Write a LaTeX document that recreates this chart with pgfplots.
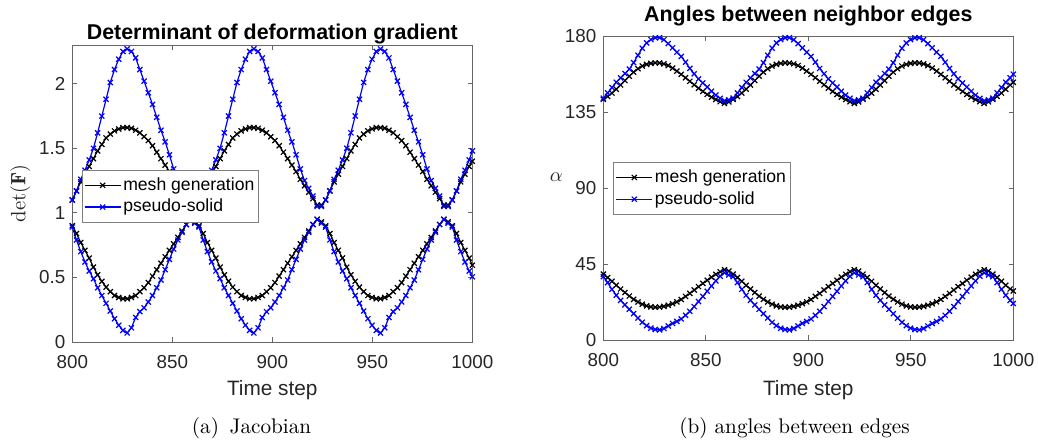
\documentclass[border=0pt]{standalone}
\usepackage{pgfplots}
\pgfplotsset{compat=1.18}
\usepackage{pgfplotstable}
\usepackage{fontspec}
\newfontfamily\arial{Liberation Sans}

% left panel: t, black upper/lower, blue upper/lower
\pgfplotstableread{
t bu bl pu pl
800.00 1.10 0.90 1.10 0.89
802.11 1.17 0.84 1.17 0.79
804.22 1.24 0.77 1.26 0.70
806.33 1.30 0.71 1.33 0.62
808.44 1.36 0.65 1.41 0.55
810.56 1.42 0.58 1.50 0.49
812.67 1.48 0.52 1.62 0.42
814.78 1.53 0.47 1.75 0.36
816.89 1.58 0.425 1.88 0.30
819.00 1.61 0.39 2.01 0.24
821.11 1.635 0.36 2.11 0.18
823.22 1.65 0.345 2.19 0.13
825.33 1.66 0.335 2.25 0.09
827.44 1.66 0.335 2.27 0.07
829.56 1.655 0.345 2.25 0.11
831.67 1.64 0.36 2.20 0.19
833.78 1.62 0.39 2.11 0.235
835.89 1.59 0.42 2.02 0.265
838.00 1.56 0.46 1.93 0.31
840.11 1.52 0.51 1.84 0.36
842.22 1.47 0.56 1.74 0.42
844.33 1.42 0.61 1.64 0.48
846.44 1.37 0.66 1.55 0.56
848.56 1.32 0.71 1.45 0.64
850.67 1.26 0.76 1.34 0.72
852.78 1.21 0.81 1.25 0.79
854.89 1.16 0.86 1.19 0.85
857.00 1.11 0.91 1.13 0.91
859.11 1.06 0.95 1.05 0.95
861.22 1.06 0.93 1.05 0.92
863.33 1.10 0.90 1.10 0.89
865.44 1.17 0.84 1.17 0.79
867.56 1.24 0.77 1.26 0.70
869.67 1.30 0.71 1.33 0.62
871.78 1.36 0.65 1.41 0.55
873.89 1.42 0.58 1.50 0.49
876.00 1.48 0.52 1.62 0.42
878.11 1.53 0.47 1.75 0.36
880.22 1.58 0.425 1.88 0.30
882.33 1.61 0.39 2.01 0.24
884.44 1.635 0.36 2.11 0.18
886.56 1.65 0.345 2.19 0.13
888.67 1.66 0.335 2.25 0.09
890.78 1.66 0.335 2.27 0.07
892.89 1.655 0.345 2.25 0.11
895.00 1.64 0.36 2.20 0.19
897.11 1.62 0.39 2.11 0.235
899.22 1.59 0.42 2.02 0.265
901.33 1.56 0.46 1.93 0.31
903.44 1.52 0.51 1.84 0.36
905.56 1.47 0.56 1.74 0.42
907.67 1.42 0.61 1.64 0.48
909.78 1.37 0.66 1.55 0.56
911.89 1.32 0.71 1.45 0.64
914.00 1.26 0.76 1.34 0.72
916.11 1.21 0.81 1.25 0.79
918.22 1.16 0.86 1.19 0.85
920.33 1.11 0.91 1.13 0.91
922.44 1.06 0.95 1.05 0.95
924.56 1.06 0.93 1.05 0.92
926.67 1.10 0.90 1.10 0.89
928.78 1.17 0.84 1.17 0.79
930.89 1.24 0.77 1.26 0.70
933.00 1.30 0.71 1.33 0.62
935.11 1.36 0.65 1.41 0.55
937.22 1.42 0.58 1.50 0.49
939.33 1.48 0.52 1.62 0.42
941.44 1.53 0.47 1.75 0.36
943.56 1.58 0.425 1.88 0.30
945.67 1.61 0.39 2.01 0.24
947.78 1.635 0.36 2.11 0.18
949.89 1.65 0.345 2.19 0.13
952.00 1.66 0.335 2.25 0.09
954.11 1.66 0.335 2.27 0.07
956.22 1.655 0.345 2.25 0.11
958.33 1.64 0.36 2.20 0.19
960.44 1.62 0.39 2.11 0.235
962.56 1.59 0.42 2.02 0.265
964.67 1.56 0.46 1.93 0.31
966.78 1.52 0.51 1.84 0.36
968.89 1.47 0.56 1.74 0.42
971.00 1.42 0.61 1.64 0.48
973.11 1.37 0.66 1.55 0.56
975.22 1.32 0.71 1.45 0.64
977.33 1.26 0.76 1.34 0.72
979.44 1.21 0.81 1.25 0.79
981.56 1.16 0.86 1.19 0.85
983.67 1.11 0.91 1.13 0.91
985.78 1.06 0.95 1.05 0.95
987.89 1.06 0.93 1.05 0.92
990.00 1.10 0.90 1.10 0.89
992.11 1.17 0.84 1.17 0.79
994.22 1.24 0.77 1.26 0.70
996.33 1.30 0.71 1.33 0.62
998.44 1.36 0.65 1.41 0.55
1000.00 1.40 0.595 1.48 0.505
}\jac

% right panel: t, black upper/lower, blue upper/lower
\pgfplotstableread{
t bu bl pu pl
800.00 142.5 39.0 143.2 37.5
802.11 144.2 37.0 146.3 34.0
804.22 146.2 34.8 149.5 30.0
806.33 148.5 32.4 152.6 26.5
808.44 151.0 30.2 155.2 23.5
810.56 153.6 28.1 157.8 20.8
812.67 156.2 26.0 160.4 18.2
814.78 158.6 24.1 164.2 15.6
816.89 160.6 22.5 168.6 13.0
819.00 162.2 21.2 172.8 10.5
821.11 163.2 20.2 175.9 8.5
823.22 163.8 19.6 177.9 7.0
825.33 164.1 19.4 178.9 6.2
827.44 164.0 19.5 179.0 6.0
829.56 163.5 19.9 177.8 6.8
831.67 162.5 20.6 175.5 8.3
833.78 161.0 21.5 173.0 9.8
835.89 159.2 22.6 170.4 11.0
838.00 157.3 24.0 167.9 12.5
840.11 155.3 25.8 164.5 14.6
842.22 153.2 27.6 160.8 17.0
844.33 151.1 29.6 157.6 19.8
846.44 149.1 31.6 154.6 22.8
848.56 147.2 33.5 152.2 25.8
850.67 145.4 35.4 149.8 28.9
852.78 143.8 37.2 147.3 32.0
854.89 142.4 38.9 145.0 35.0
857.00 141.1 40.4 143.1 37.8
859.11 140.1 41.6 141.7 39.8
861.22 141.0 40.8 142.2 38.5
863.33 142.5 39.0 143.2 37.5
865.44 144.2 37.0 146.3 34.0
867.56 146.2 34.8 149.5 30.0
869.67 148.5 32.4 152.6 26.5
871.78 151.0 30.2 155.2 23.5
873.89 153.6 28.1 157.8 20.8
876.00 156.2 26.0 160.4 18.2
878.11 158.6 24.1 164.2 15.6
880.22 160.6 22.5 168.6 13.0
882.33 162.2 21.2 172.8 10.5
884.44 163.2 20.2 175.9 8.5
886.56 163.8 19.6 177.9 7.0
888.67 164.1 19.4 178.9 6.2
890.78 164.0 19.5 179.0 6.0
892.89 163.5 19.9 177.8 6.8
895.00 162.5 20.6 175.5 8.3
897.11 161.0 21.5 173.0 9.8
899.22 159.2 22.6 170.4 11.0
901.33 157.3 24.0 167.9 12.5
903.44 155.3 25.8 164.5 14.6
905.56 153.2 27.6 160.8 17.0
907.67 151.1 29.6 157.6 19.8
909.78 149.1 31.6 154.6 22.8
911.89 147.2 33.5 152.2 25.8
914.00 145.4 35.4 149.8 28.9
916.11 143.8 37.2 147.3 32.0
918.22 142.4 38.9 145.0 35.0
920.33 141.1 40.4 143.1 37.8
922.44 140.1 41.6 141.7 39.8
924.56 141.0 40.8 142.2 38.5
926.67 142.5 39.0 143.2 37.5
928.78 144.2 37.0 146.3 34.0
930.89 146.2 34.8 149.5 30.0
933.00 148.5 32.4 152.6 26.5
935.11 151.0 30.2 155.2 23.5
937.22 153.6 28.1 157.8 20.8
939.33 156.2 26.0 160.4 18.2
941.44 158.6 24.1 164.2 15.6
943.56 160.6 22.5 168.6 13.0
945.67 162.2 21.2 172.8 10.5
947.78 163.2 20.2 175.9 8.5
949.89 163.8 19.6 177.9 7.0
952.00 164.1 19.4 178.9 6.2
954.11 164.0 19.5 179.0 6.0
956.22 163.5 19.9 177.8 6.8
958.33 162.5 20.6 175.5 8.3
960.44 161.0 21.5 173.0 9.8
962.56 159.2 22.6 170.4 11.0
964.67 157.3 24.0 167.9 12.5
966.78 155.3 25.8 164.5 14.6
968.89 153.2 27.6 160.8 17.0
971.00 151.1 29.6 157.6 19.8
973.11 149.1 31.6 154.6 22.8
975.22 147.2 33.5 152.2 25.8
977.33 145.4 35.4 149.8 28.9
979.44 143.8 37.2 147.3 32.0
981.56 142.4 38.9 145.0 35.0
983.67 141.1 40.4 143.1 37.8
985.78 140.1 41.6 141.7 39.8
987.89 141.0 40.8 142.2 38.5
990.00 142.5 39.0 143.2 37.5
992.11 144.2 37.0 146.3 34.0
994.22 146.2 34.8 149.5 30.0
996.33 148.5 32.4 152.6 26.5
998.44 151.0 30.2 155.2 23.5
1000.00 152.6 29.0 157.4 21.6
}\ang

\pgfplotsset{matlab/.style={
  scale only axis, anchor=south west, clip=false,
  xmin=800, xmax=1000, xtick={800,850,900,950,1000},
  axis line style={black!60, line width=0.5pt},
  tick style={black!60, line width=0.5pt},
  major tick length=2.4pt, tick align=inside,
  /pgf/number format/assume math mode=true,
  /pgf/number format/1000 sep={},
  ticklabel style={font=\arial\fontsize{9.4}{11}\selectfont, text=black!85},
  xticklabel style={yshift=-3pt},
  label style={font=\arial\fontsize{10.4}{12}\selectfont, text=black!85},
  every axis title shift=0pt,
  title style={font=\arial\bfseries\fontsize{10.7}{12}\selectfont},
  xlabel={Time step},
  legend cell align=left,
  legend style={draw=black!50, line width=0.4pt, anchor=north west,
    font=\arial\fontsize{8.8}{10}\selectfont, inner xsep=1pt, inner ysep=1.5pt,
    row sep=-1pt, nodes={inner xsep=1pt}},
  legend image code/.code={\draw[mark repeat=2,mark phase=2,#1]
    plot coordinates {(0pt,0pt) (9pt,0pt) (18pt,0pt)};},
  every axis plot/.append style={line width=0.6pt, mark=x, mark size=1.8pt},
}}

\begin{document}
\begin{tikzpicture}
\useasboundingbox (0,0) rectangle (519pt,220.5pt);

\begin{axis}[matlab, at={(36.15pt,49.5pt)}, width=200pt, height=148.5pt,
  ymin=0, ymax=2.3, ytick={0,0.5,1,1.5,2},
  ylabel={$\det(\mathbf{F})$},
  ylabel style={at={(rel axis cs:0,0.5)}, anchor=center, yshift=26pt},
  xlabel style={at={(rel axis cs:0.5,0)}, anchor=center, yshift=-24pt},
  title={Determinant of deformation gradient},
  title style={at={(rel axis cs:0.5,1)}, anchor=base, yshift=2.9pt},
  legend style={at={(rel axis cs:0.0235,0.579)}}]
\addplot[black] table[x=t,y=bu]{\jac};
\addlegendentry{mesh generation}
\addplot[black, forget plot] table[x=t,y=bl]{\jac};
\addplot[blue] table[x=t,y=pu]{\jac};
\addlegendentry{pseudo-solid}
\addplot[blue, forget plot] table[x=t,y=pl]{\jac};
\end{axis}

\begin{axis}[matlab, at={(301.65pt,50.5pt)}, width=205pt, height=152pt,
  ymin=0, ymax=180, ytick={0,45,90,135,180},
  ylabel={$\alpha$},
  ylabel style={rotate=-90, at={(rel axis cs:0,0.537)}, anchor=center, xshift=-23.5pt},
  xlabel style={at={(rel axis cs:0.5,0)}, anchor=center, yshift=-25pt},
  title={Angles between neighbor edges},
  title style={at={(rel axis cs:0.5,1)}, anchor=base, yshift=7.2pt},
  legend style={at={(rel axis cs:0.0244,0.585)}}]
\addplot[black] table[x=t,y=bu]{\ang};
\addlegendentry{mesh generation}
\addplot[black, forget plot] table[x=t,y=bl]{\ang};
\addplot[blue] table[x=t,y=pu]{\ang};
\addlegendentry{pseudo-solid}
\addplot[blue, forget plot] table[x=t,y=pl]{\ang};
\end{axis}

\node[font=\fontsize{10.6}{12}\selectfont, anchor=base] at (125.8pt,3.8pt) {(a)\enspace Jacobian};
\node[font=\fontsize{10.6}{12}\selectfont, anchor=base] at (397.25pt,3.8pt) {(b) angles between edges};
\end{tikzpicture}
\end{document}
